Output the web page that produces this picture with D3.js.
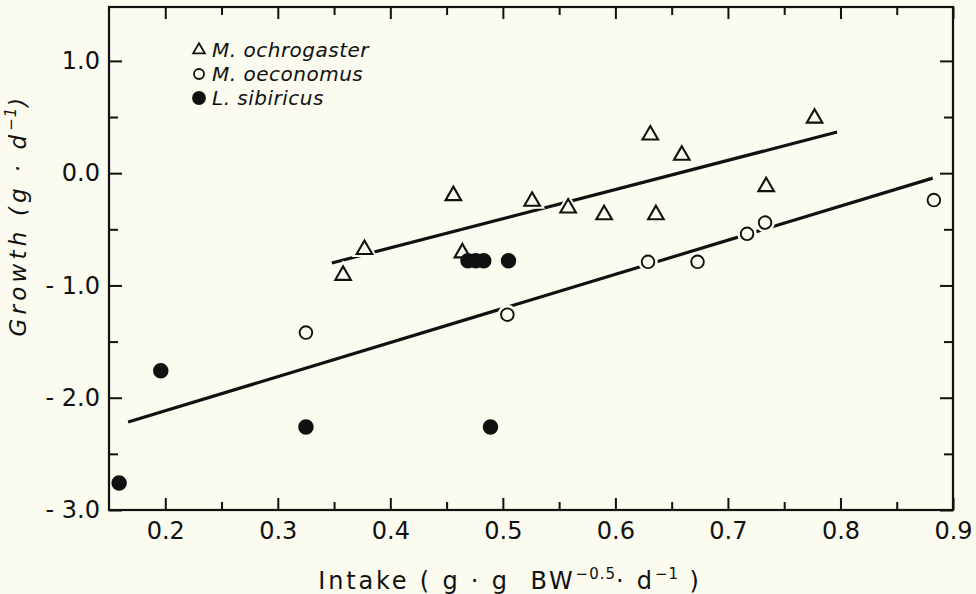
<!DOCTYPE html>
<html>
<head>
<meta charset="utf-8">
<script src="https://cdn.jsdelivr.net/npm/d3@7"></script>
<style>
  html, body { margin: 0; padding: 0; background: #fbfbef; }
  svg { display: block; }
  text { font-family: "DejaVu Sans", sans-serif; fill: #111; }
</style>
</head>
<body>
<svg id="chart" width="976" height="594"></svg>
<script>
// ---- data ----
const ochroX = [0.358, 0.377, 0.456, 0.464, 0.526, 0.558, 0.590, 0.631, 0.636, 0.659, 0.734, 0.777];
const ochroY = [-0.91, -0.68, -0.20, -0.71, -0.25, -0.31, -0.37, 0.34, -0.37, 0.16, -0.12, 0.49];

const oeconX = [0.325, 0.504, 0.629, 0.673, 0.717, 0.733, 0.883];
const oeconY = [-1.42, -1.26, -0.79, -0.79, -0.54, -0.44, -0.24];

const sibirX = [0.159, 0.196, 0.325, 0.469, 0.476, 0.483, 0.505, 0.489];
const sibirY = [-2.76, -1.76, -2.26, -0.78, -0.78, -0.78, -0.78, -2.26];

const ochroFitX = [0.348, 0.797];
const ochroFitY = [-0.80, 0.366];
const oeconFitX = [0.167, 0.882];
const oeconFitY = [-2.216, -0.044];

const xMajorTicks = [0.2, 0.3, 0.4, 0.5, 0.6, 0.7, 0.8, 0.9];
const xMinorTicks = [0.25, 0.35, 0.45, 0.55, 0.65, 0.75, 0.85];
const yMajorTicks = [-3.0, -2.0, -1.0, 0.0, 1.0];
const yMinorTicks = [-2.5, -1.5, -0.5, 0.5];

const legendNames = ["M. ochrogaster", "M. oeconomus", "L. sibiricus"];

// ---- layout ----
const bg = "#fbfbef";
const ink = "#111";
const svg = d3.select("#chart");
const x = d3.scaleLinear().domain([0.15, 0.9]).range([109, 953]);
const y = d3.scaleLinear().domain([-3.0, 1.48]).range([510, 7]);

const zip = (a, b) => a.map((v, i) => [v, b[i]]);

// regression lines
const line = d3.line().x(d => x(d[0])).y(d => y(d[1]));
[zip(ochroFitX, ochroFitY), zip(oeconFitX, oeconFitY)].forEach(pts => {
  svg.append("path").attr("d", line(pts))
    .attr("fill", "none").attr("stroke", ink).attr("stroke-width", 3.2);
});

// markers
const tri = d3.symbol().type(d3.symbolTriangle).size(105);
function drawTri(g, pts, halo) {
  g.selectAll(null).data(pts).enter().append("path")
    .attr("d", tri)
    .attr("transform", d => `translate(${x(d[0])},${y(d[1])})`)
    .attr("fill", halo ? bg : "none")
    .attr("stroke", halo ? bg : ink)
    .attr("stroke-width", halo ? 6 : 2.1);
}
function drawCirc(g, pts, r, filled, halo) {
  g.selectAll(null).data(pts).enter().append("circle")
    .attr("cx", d => x(d[0])).attr("cy", d => y(d[1]))
    .attr("r", halo ? r + 3.5 : r)
    .attr("fill", halo ? bg : (filled ? ink : "none"))
    .attr("stroke", halo ? "none" : ink)
    .attr("stroke-width", 1.9);
}
const mg = svg.append("g");
drawTri(mg, zip(ochroX, ochroY), true);
drawCirc(mg, zip(oeconX, oeconY), 6.3, false, true);
drawTri(mg, zip(ochroX, ochroY), false);
drawCirc(mg, zip(oeconX, oeconY), 6.3, false, false);
drawCirc(mg, zip(sibirX, sibirY), 6.8, true, false);

// axes
const fontSize = 24;
function styleAxis(g, labels) {
  g.select(".domain").remove();
  g.selectAll(".tick line").attr("stroke", ink).attr("stroke-width", 2);
  if (labels) {
    g.selectAll(".tick text").attr("font-size", fontSize)
      .attr("font-family", "DejaVu Sans").attr("fill", ink);
  } else {
    g.selectAll(".tick text").remove();
  }
}
const yr = y.range();
const xr = x.range();

// bottom
svg.append("g").attr("transform", `translate(0,${yr[0]})`)
  .call(d3.axisBottom(x).tickValues(xMajorTicks).tickSizeInner(-12).tickSizeOuter(0).tickPadding(12).tickFormat(d => d3.format(".1f")(d)))
  .call(g => styleAxis(g, true));
svg.append("g").attr("transform", `translate(0,${yr[0]})`)
  .call(d3.axisBottom(x).tickValues(xMinorTicks).tickSizeInner(-8).tickSizeOuter(0))
  .call(g => styleAxis(g, false));
// top
svg.append("g").attr("transform", `translate(0,${yr[1]})`)
  .call(d3.axisTop(x).tickValues(xMajorTicks).tickSizeInner(-12).tickSizeOuter(0))
  .call(g => styleAxis(g, false));
svg.append("g").attr("transform", `translate(0,${yr[1]})`)
  .call(d3.axisTop(x).tickValues(xMinorTicks).tickSizeInner(-8).tickSizeOuter(0))
  .call(g => styleAxis(g, false));
// left
svg.append("g").attr("transform", `translate(${xr[0]},0)`)
  .call(d3.axisLeft(y).tickValues(yMajorTicks).tickSizeInner(-13).tickSizeOuter(0).tickPadding(9).tickFormat(d => d3.format(".1f")(Math.abs(d) < 1e-9 ? 0 : d).replace("−", "- ")))
  .call(g => styleAxis(g, true));
svg.append("g").attr("transform", `translate(${xr[0]},0)`)
  .call(d3.axisLeft(y).tickValues(yMinorTicks).tickSizeInner(-9).tickSizeOuter(0))
  .call(g => styleAxis(g, false));
// right
svg.append("g").attr("transform", `translate(${xr[1]},0)`)
  .call(d3.axisRight(y).tickValues(yMajorTicks).tickSizeInner(-13).tickSizeOuter(0))
  .call(g => styleAxis(g, false));
svg.append("g").attr("transform", `translate(${xr[1]},0)`)
  .call(d3.axisRight(y).tickValues(yMinorTicks).tickSizeInner(-9).tickSizeOuter(0))
  .call(g => styleAxis(g, false));

// frame
svg.append("rect")
  .attr("x", xr[0]).attr("y", yr[1])
  .attr("width", xr[1] - xr[0]).attr("height", yr[0] - yr[1])
  .attr("fill", "none").attr("stroke", ink).attr("stroke-width", 2.2);

// legend
const legX = 199, legY0 = 50, legDy = 24;
const lg = svg.append("g");
legendNames.forEach((name, i) => {
  const cy = legY0 + i * legDy;
  if (i === 0) {
    lg.append("path").attr("d", d3.symbol().type(d3.symbolTriangle).size(60)())
      .attr("transform", `translate(${legX},${cy})`)
      .attr("fill", "none").attr("stroke", ink).attr("stroke-width", 1.8);
  } else {
    lg.append("circle").attr("cx", legX).attr("cy", cy).attr("r", i === 1 ? 5 : 6)
      .attr("fill", i === 1 ? "none" : ink).attr("stroke", ink).attr("stroke-width", 1.8);
  }
  lg.append("text").attr("x", legX + 13).attr("y", cy + 7)
    .attr("font-size", 20).attr("font-style", "italic").attr("letter-spacing", 0.5)
    .text(name);
});

// x title
const xt = svg.append("text").attr("x", 510).attr("y", 589)
  .attr("text-anchor", "middle").attr("font-size", 24).attr("letter-spacing", 2.8);
xt.append("tspan").text("Intake ( g · g\u00a0\u00a0BW");
xt.append("tspan").attr("dy", -10).attr("font-size", 15).attr("letter-spacing", 1).text("−0.5");
xt.append("tspan").attr("dy", 10).text("· d");
xt.append("tspan").attr("dy", -10).attr("font-size", 15).attr("letter-spacing", 1).text("−1");
xt.append("tspan").attr("dy", 10).text(" )");

// y title
const yt = svg.append("text")
  .attr("transform", "translate(26,215) rotate(-90)")
  .attr("text-anchor", "middle").attr("font-size", 23).attr("font-style", "italic").attr("letter-spacing", 4.2);
yt.append("tspan").text("Growth (g · d");
yt.append("tspan").attr("dy", -10).attr("font-size", 15).attr("letter-spacing", 1).text("−1");
yt.append("tspan").attr("dy", 10).text(")");
</script>
</body>
</html>
